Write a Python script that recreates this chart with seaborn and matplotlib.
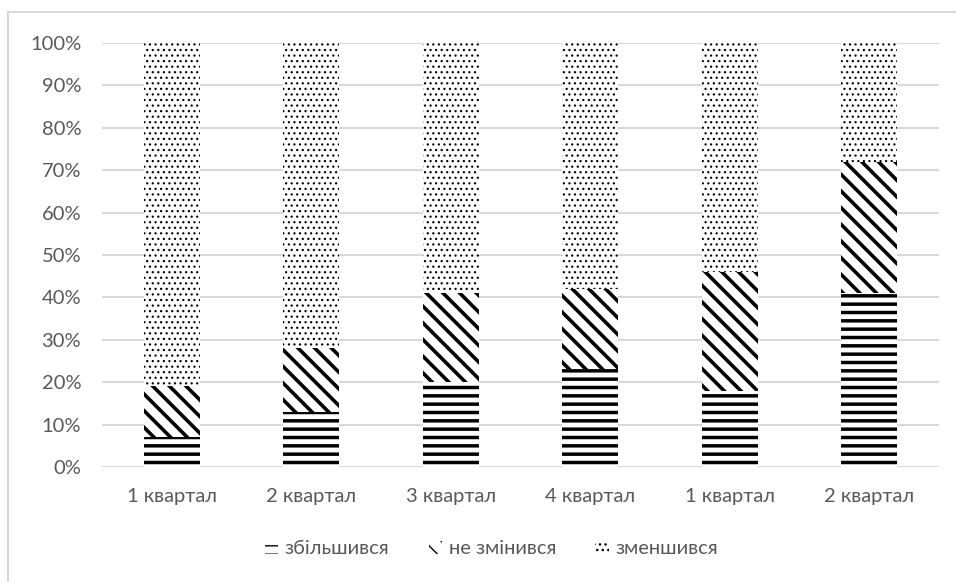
import numpy as np
import pandas as pd
import matplotlib
matplotlib.use("Agg")
import matplotlib.pyplot as plt
from matplotlib.patches import Patch
from matplotlib.lines import Line2D
from matplotlib.ticker import PercentFormatter
import seaborn as sns

# Share of respondents by quarter, percent
quarters = ["1 квартал", "2 квартал", "3 квартал", "4 квартал", "1 квартал", "2 квартал"]
increased = [7, 13, 20, 23, 18, 41]
unchanged = [12, 15, 21, 19, 28, 31]
decreased = [81, 72, 59, 58, 54, 28]
series_names = ["збільшився", "не змінився", "зменшився"]
y_ticks = [0, 10, 20, 30, 40, 50, 60, 70, 80, 90, 100]

sns.set_theme(style="white")
plt.rcParams["font.family"] = ["Lato", "DejaVu Sans"]

text_color = "#595959"
grid_color = "#d9d9d9"

df = pd.DataFrame({
    "pos": np.arange(len(quarters)),
    "inc": increased,
    "unch": unchanged,
    "dec": decreased,
})
df["mid"] = df["inc"] + df["unch"]
df["top"] = df["mid"] + df["dec"]

fig = plt.figure(figsize=(9.56, 5.82), dpi=100)
ax = fig.add_axes([102 / 956, 1 - 467 / 582, (939 - 102) / 956, (467 - 43) / 582])

# stacked layers drawn from the full height down, each covering the one above
layers = [
    ("top", "...", 0.85),
    ("mid", "\\\\", 2.6),
    ("inc", "--", 2.5),
]
for col, hatch, hlw in layers:
    with plt.rc_context({"hatch.linewidth": hlw}):
        sns.barplot(data=df, x="pos", y=col, color="white", edgecolor="black",
                    linewidth=0, hatch=hatch, width=0.4, errorbar=None,
                    saturation=1, ax=ax, zorder=3)

ax.set_xlim(-0.5, len(quarters) - 0.5)
ax.set_ylim(0, 100)
ax.set_yticks(y_ticks)
ax.yaxis.set_major_formatter(PercentFormatter(decimals=0))
ax.set_xticks(df["pos"])
ax.set_xticklabels(quarters)
ax.set_xlabel("")
ax.set_ylabel("")
ax.grid(axis="y", color=grid_color, linewidth=1.5, zorder=0)
ax.set_axisbelow(True)
for s in ax.spines.values():
    s.set_visible(False)
ax.tick_params(axis="x", length=0, pad=15, labelsize=14.5, labelcolor=text_color)
ax.tick_params(axis="y", length=0, pad=15, labelsize=14.5, labelcolor=text_color)

# legend
handles = []
for (col, hatch, hlw), name in zip(layers[::-1], series_names):
    with plt.rc_context({"hatch.linewidth": hlw}):
        handles.append(Patch(facecolor="white", edgecolor="black", linewidth=0,
                             hatch=hatch, label=name))
leg = fig.legend(handles=handles, loc="center", bbox_to_anchor=(0.514, 1 - 549 / 582),
                 ncol=3, frameon=False, handlelength=0.65, handleheight=0.6,
                 handletextpad=0.35, columnspacing=1.95, fontsize=14.5)
for t in leg.get_texts():
    t.set_color(text_color)

# chart frame
fig.add_artist(Line2D([8 / 956, 8 / 956], [0, 1 - 12 / 582], transform=fig.transFigure,
                      color=grid_color, linewidth=1.5))
fig.add_artist(Line2D([8 / 956, 1], [1 - 12 / 582, 1 - 12 / 582], transform=fig.transFigure,
                      color=grid_color, linewidth=1.5))

fig.savefig("out.png", dpi=100, facecolor="white")
